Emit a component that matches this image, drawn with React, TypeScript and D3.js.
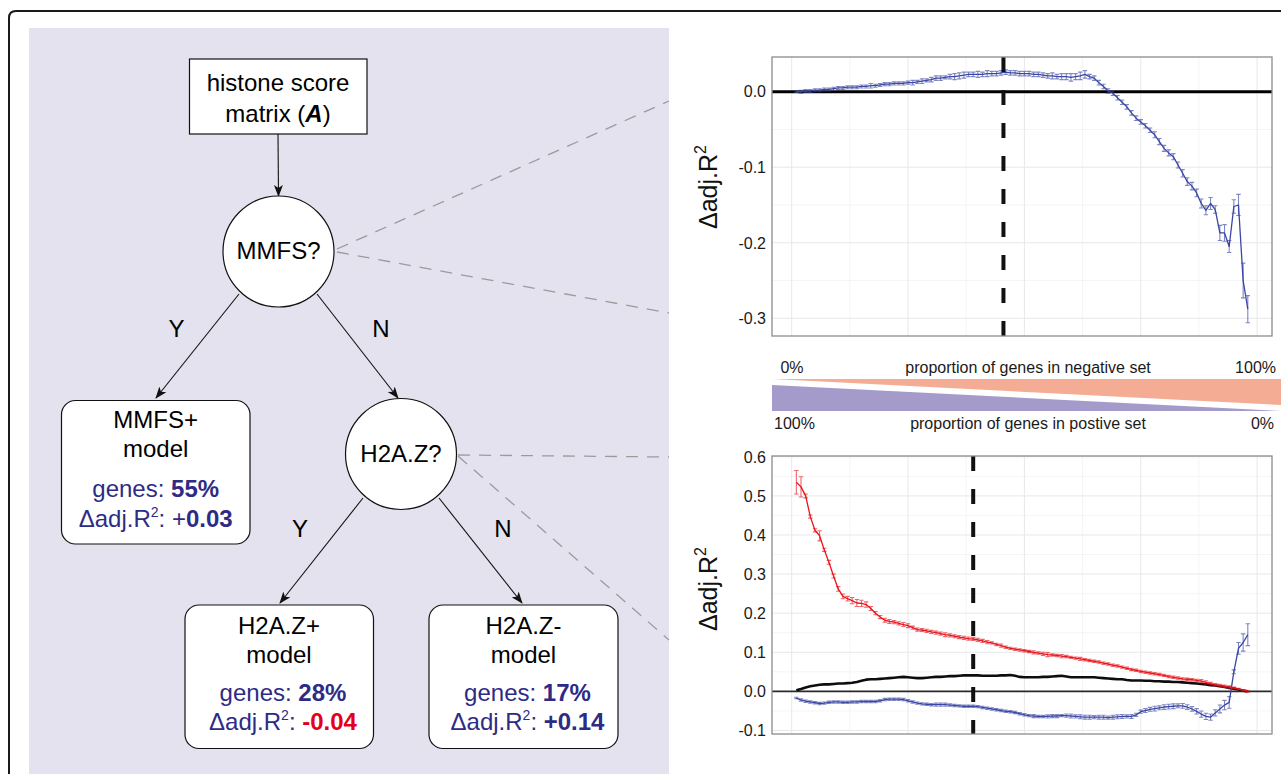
import React, { useEffect, useRef } from "react";
import * as d3 from "d3";

// percentage of genes moved into the negative set (x of every series)
const genePct = d3.range(1, 99);

// top panel: MMFS split, delta adj. R2 with standard error
const mmfsDelta = [
  0.000, 0.000, 0.001, 0.001, 0.002, 0.002, 0.003, 0.003, 0.004, 0.005,
  0.005, 0.006, 0.006, 0.006, 0.007, 0.007, 0.008, 0.008, 0.009, 0.010,
  0.010, 0.011, 0.011, 0.011, 0.012, 0.012, 0.013, 0.014, 0.015, 0.016,
  0.018, 0.018, 0.019, 0.020, 0.020, 0.021, 0.022, 0.023, 0.023, 0.023,
  0.023, 0.024, 0.024, 0.024, 0.025, 0.026, 0.025, 0.025, 0.024, 0.024,
  0.024, 0.023, 0.023, 0.022, 0.021, 0.021, 0.020, 0.020, 0.020, 0.019,
  0.020, 0.021, 0.023, 0.020, 0.018, 0.012, 0.007, 0.001, -0.002, -0.008,
  -0.014, -0.020, -0.028, -0.035, -0.040, -0.045, -0.051, -0.057, -0.066, -0.075,
  -0.081, -0.086, -0.097, -0.108, -0.119, -0.125, -0.134, -0.148, -0.157, -0.148,
  -0.156, -0.187, -0.187, -0.205, -0.152, -0.150, -0.250, -0.288,
];
const mmfsErr = [
  0.001, 0.002, 0.002, 0.002, 0.002, 0.002, 0.002, 0.002, 0.002, 0.002,
  0.002, 0.002, 0.002, 0.002, 0.002, 0.002, 0.003, 0.002, 0.002, 0.002,
  0.002, 0.002, 0.002, 0.002, 0.002, 0.003, 0.002, 0.003, 0.002, 0.003,
  0.003, 0.003, 0.002, 0.003, 0.004, 0.004, 0.004, 0.003, 0.003, 0.004,
  0.003, 0.004, 0.003, 0.003, 0.003, 0.003, 0.003, 0.003, 0.003, 0.003,
  0.003, 0.003, 0.003, 0.003, 0.003, 0.004, 0.003, 0.004, 0.004, 0.005,
  0.004, 0.005, 0.005, 0.003, 0.003, 0.003, 0.003, 0.003, 0.003, 0.003,
  0.003, 0.003, 0.003, 0.003, 0.003, 0.003, 0.003, 0.004, 0.004, 0.004,
  0.004, 0.004, 0.004, 0.005, 0.005, 0.005, 0.005, 0.006, 0.006, 0.008,
  0.005, 0.010, 0.011, 0.008, 0.009, 0.014, 0.023, 0.018,
];

// bottom panel: H2A.Z split
const h2azNegDelta = [
  0.535, 0.523, 0.500, 0.447, 0.412, 0.398, 0.362, 0.330, 0.295, 0.262,
  0.243, 0.237, 0.232, 0.226, 0.225, 0.222, 0.212, 0.200, 0.190, 0.182,
  0.179, 0.177, 0.174, 0.171, 0.168, 0.163, 0.158, 0.157, 0.155, 0.152,
  0.150, 0.148, 0.145, 0.143, 0.141, 0.139, 0.137, 0.135, 0.134, 0.132,
  0.129, 0.126, 0.124, 0.120, 0.117, 0.113, 0.110, 0.108, 0.106, 0.104,
  0.102, 0.100, 0.098, 0.096, 0.094, 0.093, 0.092, 0.090, 0.089, 0.087,
  0.085, 0.083, 0.081, 0.079, 0.077, 0.075, 0.072, 0.070, 0.067, 0.065,
  0.062, 0.059, 0.056, 0.054, 0.051, 0.049, 0.047, 0.045, 0.043, 0.041,
  0.038, 0.036, 0.034, 0.032, 0.031, 0.030, 0.028, 0.026, 0.023, 0.020,
  0.017, 0.015, 0.013, 0.011, 0.009, 0.006, 0.003, 0.000,
];
const h2azNegErr = [
  0.030, 0.026, 0.005, 0.004, 0.004, 0.013, 0.004, 0.005, 0.005, 0.006,
  0.006, 0.006, 0.008, 0.009, 0.008, 0.007, 0.005, 0.004, 0.004, 0.005,
  0.005, 0.004, 0.004, 0.005, 0.005, 0.004, 0.004, 0.004, 0.004, 0.004,
  0.004, 0.004, 0.005, 0.004, 0.004, 0.004, 0.004, 0.004, 0.004, 0.004,
  0.004, 0.004, 0.003, 0.003, 0.004, 0.003, 0.003, 0.003, 0.003, 0.003,
  0.003, 0.004, 0.003, 0.004, 0.005, 0.003, 0.003, 0.004, 0.003, 0.003,
  0.003, 0.004, 0.003, 0.003, 0.003, 0.003, 0.003, 0.003, 0.003, 0.003,
  0.003, 0.003, 0.003, 0.003, 0.003, 0.003, 0.003, 0.003, 0.003, 0.003,
  0.003, 0.003, 0.003, 0.003, 0.003, 0.003, 0.003, 0.004, 0.004, 0.003,
  0.003, 0.003, 0.003, 0.003, 0.002, 0.002, 0.002, 0.002,
];
const h2azPosDelta = [
  -0.017, -0.022, -0.025, -0.027, -0.029, -0.031, -0.030, -0.028, -0.027, -0.027,
  -0.028, -0.028, -0.027, -0.027, -0.026, -0.026, -0.026, -0.026, -0.024, -0.021,
  -0.020, -0.020, -0.020, -0.021, -0.024, -0.027, -0.030, -0.032, -0.033, -0.034,
  -0.034, -0.034, -0.034, -0.035, -0.036, -0.037, -0.038, -0.038, -0.038, -0.039,
  -0.041, -0.043, -0.045, -0.047, -0.049, -0.051, -0.052, -0.054, -0.057, -0.060,
  -0.062, -0.063, -0.064, -0.064, -0.064, -0.063, -0.063, -0.062, -0.062, -0.063,
  -0.064, -0.065, -0.066, -0.066, -0.066, -0.066, -0.066, -0.067, -0.066, -0.065,
  -0.064, -0.064, -0.064, -0.060, -0.052, -0.049, -0.046, -0.044, -0.042, -0.040,
  -0.039, -0.038, -0.037, -0.037, -0.040, -0.045, -0.051, -0.058, -0.064, -0.066,
  -0.055, -0.045, -0.035, -0.028, 0.050, 0.110, 0.125, 0.145,
];
const h2azPosErr = [
  0.002, 0.003, 0.003, 0.003, 0.003, 0.003, 0.003, 0.003, 0.003, 0.003,
  0.003, 0.003, 0.003, 0.003, 0.003, 0.003, 0.003, 0.003, 0.003, 0.003,
  0.003, 0.003, 0.003, 0.003, 0.003, 0.003, 0.003, 0.003, 0.003, 0.003,
  0.004, 0.004, 0.004, 0.003, 0.003, 0.003, 0.003, 0.003, 0.003, 0.003,
  0.003, 0.003, 0.003, 0.003, 0.003, 0.003, 0.003, 0.003, 0.003, 0.003,
  0.003, 0.004, 0.003, 0.003, 0.004, 0.004, 0.004, 0.003, 0.004, 0.005,
  0.004, 0.005, 0.005, 0.005, 0.004, 0.005, 0.005, 0.004, 0.005, 0.005,
  0.005, 0.004, 0.005, 0.004, 0.004, 0.005, 0.005, 0.006, 0.005, 0.006,
  0.006, 0.006, 0.005, 0.006, 0.006, 0.006, 0.007, 0.008, 0.008, 0.008,
  0.008, 0.010, 0.012, 0.015, 0.005, 0.015, 0.022, 0.028,
];
const h2azOverall = [
  0.003, 0.006, 0.010, 0.013, 0.015, 0.017, 0.018, 0.018, 0.019, 0.020,
  0.020, 0.021, 0.022, 0.024, 0.027, 0.030, 0.031, 0.031, 0.032, 0.033,
  0.034, 0.035, 0.036, 0.037, 0.036, 0.035, 0.034, 0.034, 0.035, 0.036,
  0.037, 0.037, 0.038, 0.039, 0.039, 0.040, 0.041, 0.041, 0.041, 0.041,
  0.040, 0.040, 0.040, 0.040, 0.041, 0.041, 0.042, 0.040, 0.037, 0.036,
  0.036, 0.036, 0.036, 0.037, 0.037, 0.038, 0.039, 0.040, 0.038, 0.036,
  0.036, 0.036, 0.036, 0.036, 0.036, 0.035, 0.034, 0.033, 0.032, 0.031,
  0.031, 0.029, 0.028, 0.028, 0.028, 0.027, 0.027, 0.026, 0.026, 0.025,
  0.025, 0.024, 0.024, 0.023, 0.022, 0.021, 0.020, 0.019, 0.018, 0.016,
  0.015, 0.013, 0.011, 0.009, 0.007, 0.005, 0.002, 0.000,
];

// chosen split (dashed line), % of genes
const mmfsSplit = 45.5;
const h2azSplit = 39;

const topTicks = [0.0, -0.1, -0.2, -0.3];
const topMinor = [-0.05, -0.15, -0.25];
const bottomTicks = [0.6, 0.5, 0.4, 0.3, 0.2, 0.1, 0.0, -0.1];
const bottomMinor = [0.55, 0.45, 0.35, 0.25, 0.15, 0.05, -0.05];
const xMajor = [0, 25, 50, 75, 100];
const xMinor = [12.5, 37.5, 62.5, 87.5];

const leaves = [
  { title: "MMFS+", genes: "55%", sign: "+", delta: "0.03", signBold: false, red: false },
  { title: "H2A.Z+", genes: "28%", sign: "", delta: "-0.04", signBold: true, red: true },
  { title: "H2A.Z-", genes: "17%", sign: "", delta: "+0.14", signBold: true, red: false },
];

const FONT = "'Liberation Sans', Arial, Helvetica, sans-serif";
const INK = "#2e2b86";
const RED = "#e3001b";
const BLUE = "#3a46a3";

const PLOT_L = 772;
const PLOT_R = 1272;

const App = () => {
  const ref = useRef<SVGSVGElement>(null);

  useEffect(() => {
    drawChart();
  }, []);

  const drawChart = () => {
    const svg = d3.select(ref.current);
    svg.selectAll("*").remove();

    const defs = svg.append("defs");
    defs
      .append("marker")
      .attr("id", "arrow")
      .attr("viewBox", "0 0 12 10")
      .attr("refX", 11)
      .attr("refY", 5)
      .attr("markerWidth", 12)
      .attr("markerHeight", 10)
      .attr("markerUnits", "userSpaceOnUse")
      .attr("orient", "auto")
      .append("path")
      .attr("d", "M0,0.5 L12,5 L0,9.5 L3,5 Z")
      .attr("fill", "#111");

    // outer frame
    svg
      .append("path")
      .attr("d", "M9,780 V18 Q9,11 16,11 H1290")
      .attr("fill", "none")
      .attr("stroke", "#1a1a1a")
      .attr("stroke-width", 2);

    // ---------- decision tree panel ----------
    const tree = svg.append("g").attr("font-family", FONT);
    tree
      .append("rect")
      .attr("x", 29)
      .attr("y", 28)
      .attr("width", 640)
      .attr("height", 760)
      .attr("fill", "#e4e2ef");

    const connectors = [
      [337, 249, 669, 101],
      [337, 252, 669, 313],
      [458, 455, 669, 457],
      [458, 456, 669, 640],
    ];
    tree
      .selectAll("line.conn")
      .data(connectors)
      .join("line")
      .attr("class", "conn")
      .attr("x1", (d) => d[0])
      .attr("y1", (d) => d[1])
      .attr("x2", (d) => d[2])
      .attr("y2", (d) => d[3])
      .attr("stroke", "#9b9b9b")
      .attr("stroke-width", 1.3)
      .attr("stroke-dasharray", "12,9");

    // root box
    tree
      .append("rect")
      .attr("x", 189.5)
      .attr("y", 59)
      .attr("width", 177.5)
      .attr("height", 75)
      .attr("fill", "#fff")
      .attr("stroke", "#111")
      .attr("stroke-width", 1.2);
    tree
      .append("text")
      .attr("x", 278)
      .attr("y", 90.5)
      .attr("text-anchor", "middle")
      .attr("font-size", 24)
      .text("histone score");
    const rootLine = tree
      .append("text")
      .attr("x", 278)
      .attr("y", 121.5)
      .attr("text-anchor", "middle")
      .attr("font-size", 24);
    rootLine.append("tspan").text("matrix (");
    rootLine.append("tspan").attr("font-weight", "bold").attr("font-style", "italic").text("A");
    rootLine.append("tspan").text(")");

    const edges = [
      [278, 134, 278.5, 196],
      [239, 294, 156, 398],
      [317, 294, 398, 398],
      [363, 498, 280, 603],
      [439, 498, 522, 603],
    ];
    tree
      .selectAll("line.edge")
      .data(edges)
      .join("line")
      .attr("class", "edge")
      .attr("x1", (d) => d[0])
      .attr("y1", (d) => d[1])
      .attr("x2", (d) => d[2])
      .attr("y2", (d) => d[3])
      .attr("stroke", "#111")
      .attr("stroke-width", 1.1)
      .attr("marker-end", "url(#arrow)");

    const decisions = [
      { label: "MMFS?", cx: 278.5, cy: 251.5 },
      { label: "H2A.Z?", cx: 401, cy: 454 },
    ];
    decisions.forEach((d) => {
      tree
        .append("circle")
        .attr("cx", d.cx)
        .attr("cy", d.cy)
        .attr("r", 55.5)
        .attr("fill", "#fff")
        .attr("stroke", "#111")
        .attr("stroke-width", 1.2);
      tree
        .append("text")
        .attr("x", d.cx)
        .attr("y", d.cy + 7.5)
        .attr("text-anchor", "middle")
        .attr("font-size", 24)
        .text(d.label);
    });

    const yn = [
      ["Y", 176.5, 337],
      ["N", 381, 337],
      ["Y", 300, 537],
      ["N", 503, 537],
    ];
    yn.forEach(([t, x, y]) => {
      tree
        .append("text")
        .attr("x", x)
        .attr("y", y)
        .attr("text-anchor", "middle")
        .attr("font-size", 24)
        .text(t as string);
    });

    const leafBoxes = [
      { x: 61.5, y: 400.5, w: 188.5, h: 143.5, cx: 155.7 },
      { x: 185, y: 605, w: 188.5, h: 143.5, cx: 279 },
      { x: 429, y: 605, w: 189, h: 143.5, cx: 523.5 },
    ];
    leaves.forEach((leaf, i) => {
      const b = leafBoxes[i];
      tree
        .append("rect")
        .attr("x", b.x)
        .attr("y", b.y)
        .attr("width", b.w)
        .attr("height", b.h)
        .attr("rx", 14)
        .attr("fill", "#fff")
        .attr("stroke", "#111")
        .attr("stroke-width", 1.2);
      const off = i === 0 ? [27.5, 56.5, 96.5, 126.5] : [29, 57.5, 95.5, 124.5];
      const ix = i === 0 ? b.cx : b.cx + 4;
      tree.append("text").attr("x", b.cx).attr("y", b.y + off[0]).attr("text-anchor", "middle").attr("font-size", 24).text(leaf.title);
      tree.append("text").attr("x", b.cx).attr("y", b.y + off[1]).attr("text-anchor", "middle").attr("font-size", 24).text("model");
      const g1 = tree
        .append("text")
        .attr("x", ix)
        .attr("y", b.y + off[2])
        .attr("text-anchor", "middle")
        .attr("font-size", 24)
        .attr("fill", INK);
      g1.append("tspan").text("genes: ");
      g1.append("tspan").attr("font-weight", "bold").text(leaf.genes);
      const g2 = tree
        .append("text")
        .attr("x", ix)
        .attr("y", b.y + off[3])
        .attr("text-anchor", "middle")
        .attr("font-size", 24)
        .attr("fill", INK);
      g2.append("tspan").text("Δadj.R");
      g2.append("tspan").attr("font-size", 14).attr("dy", -10).text("2");
      g2.append("tspan").attr("dy", 10).text(": ");
      if (leaf.sign) g2.append("tspan").text(leaf.sign);
      g2.append("tspan")
        .attr("font-weight", "bold")
        .attr("fill", leaf.red ? RED : INK)
        .text(leaf.delta);
    });

    // ---------- line panels ----------
    const x = d3.scaleLinear().domain([-4.23, 103.2]).range([PLOT_L, PLOT_R]);

    const drawPanel = (cfg: any) => {
      const { top, bottom, domain, ticks, minor, split, zeroWidth, zeroColor, series, titleY } = cfg;
      const y = d3.scaleLinear().domain(domain).range([bottom, top]);
      const g = svg.append("g").attr("font-family", FONT);

      g.append("rect")
        .attr("x", PLOT_L)
        .attr("y", top)
        .attr("width", PLOT_R - PLOT_L)
        .attr("height", bottom - top)
        .attr("fill", "#fff");

      g.selectAll("line.ymin")
        .data(minor)
        .join("line")
        .attr("x1", PLOT_L)
        .attr("x2", PLOT_R)
        .attr("y1", (d: number) => y(d))
        .attr("y2", (d: number) => y(d))
        .attr("stroke", "#f3f3f3")
        .attr("stroke-width", 0.8);
      g.selectAll("line.xmin")
        .data(xMinor)
        .join("line")
        .attr("y1", top)
        .attr("y2", bottom)
        .attr("x1", (d) => x(d))
        .attr("x2", (d) => x(d))
        .attr("stroke", "#f3f3f3")
        .attr("stroke-width", 0.8);
      g.selectAll("line.ymaj")
        .data(ticks)
        .join("line")
        .attr("x1", PLOT_L)
        .attr("x2", PLOT_R)
        .attr("y1", (d: number) => y(d))
        .attr("y2", (d: number) => y(d))
        .attr("stroke", "#e8e8e8")
        .attr("stroke-width", 1);
      g.selectAll("line.xmaj")
        .data(xMajor)
        .join("line")
        .attr("y1", top)
        .attr("y2", bottom)
        .attr("x1", (d) => x(d))
        .attr("x2", (d) => x(d))
        .attr("stroke", "#e8e8e8")
        .attr("stroke-width", 1);

      // zero reference
      g.append("line")
        .attr("x1", PLOT_L)
        .attr("x2", PLOT_R)
        .attr("y1", y(0))
        .attr("y2", y(0))
        .attr("stroke", zeroColor)
        .attr("stroke-width", zeroWidth);

      series.forEach((s: any) => {
        if (s.err) {
          const path = d3.path();
          s.values.forEach((v: number, i: number) => {
            const px = x(genePct[i]);
            const y0 = y(v - s.err[i]);
            const y1 = y(v + s.err[i]);
            path.moveTo(px, y0);
            path.lineTo(px, y1);
            path.moveTo(px - 2.2, y0);
            path.lineTo(px + 2.2, y0);
            path.moveTo(px - 2.2, y1);
            path.lineTo(px + 2.2, y1);
          });
          g.append("path")
            .attr("d", path.toString())
            .attr("fill", "none")
            .attr("stroke", s.color)
            .attr("stroke-opacity", 0.65)
            .attr("stroke-width", 1.1);
        }
        const line = d3
          .line<number>()
          .x((_, i) => x(genePct[i]))
          .y((d) => y(d));
        g.append("path")
          .datum(s.values)
          .attr("fill", "none")
          .attr("stroke", s.color)
          .attr("stroke-width", s.width)
          .attr("stroke-linejoin", "round")
          .attr("d", line);
      });

      // chosen split
      g.append("line")
        .attr("x1", x(split))
        .attr("x2", x(split))
        .attr("y1", top)
        .attr("y2", bottom)
        .attr("stroke", "#111")
        .attr("stroke-width", 4)
        .attr("stroke-dasharray", "15,18");

      g.append("rect")
        .attr("x", PLOT_L)
        .attr("y", top)
        .attr("width", PLOT_R - PLOT_L)
        .attr("height", bottom - top)
        .attr("fill", "none")
        .attr("stroke", "#8c8c8c")
        .attr("stroke-width", 1.3);

      g.selectAll("text.tick")
        .data(ticks)
        .join("text")
        .attr("x", PLOT_L - 6)
        .attr("y", (d: number) => y(d))
        .attr("dy", "0.36em")
        .attr("text-anchor", "end")
        .attr("font-size", 16)
        .attr("fill", "#1a1a1a")
        .text((d: number) => d.toFixed(1));

      const title = g
        .append("text")
        .attr("transform", `translate(717,${titleY}) rotate(-90)`)
        .attr("text-anchor", "middle")
        .attr("font-size", 25)
        .attr("fill", "#111");
      title.append("tspan").text("Δadj.R");
      title.append("tspan").attr("font-size", 16).attr("dy", -11).text("2");
    };

    drawPanel({
      top: 57,
      bottom: 336,
      domain: [-0.3235, 0.046],
      ticks: topTicks,
      minor: topMinor,
      split: mmfsSplit,
      zeroWidth: 3,
      zeroColor: "#000",
      titleY: 187,
      series: [{ values: mmfsDelta, err: mmfsErr, color: BLUE, width: 1.3 }],
    });

    drawPanel({
      top: 456,
      bottom: 734,
      domain: [-0.109, 0.602],
      ticks: bottomTicks,
      minor: bottomMinor,
      split: h2azSplit,
      zeroWidth: 1.6,
      zeroColor: "#2a2a2a",
      titleY: 589,
      series: [
        { values: h2azOverall, err: null, color: "#0d0d0d", width: 2.6 },
        { values: h2azPosDelta, err: h2azPosErr, color: BLUE, width: 1.3 },
        { values: h2azNegDelta, err: h2azNegErr, color: "#e8131b", width: 1.3 },
      ],
    });

    // proportion band between the two panels
    const band = svg.append("g").attr("font-family", FONT).attr("font-size", 16).attr("fill", "#1a1a1a");
    band.append("polygon").attr("points", "772,379 1281,379 1281,405").attr("fill", "#f4ad94");
    band.append("polygon").attr("points", "772,385 772,411 1281,411").attr("fill", "#a49bcb");
    band.append("text").attr("x", 792).attr("y", 373).attr("text-anchor", "middle").text("0%");
    band.append("text").attr("x", 1028).attr("y", 373).attr("text-anchor", "middle").text("proportion of genes in negative set");
    band.append("text").attr("x", 1276).attr("y", 373).attr("text-anchor", "end").text("100%");
    band.append("text").attr("x", 774).attr("y", 429).attr("text-anchor", "start").text("100%");
    band.append("text").attr("x", 1028).attr("y", 429).attr("text-anchor", "middle").text("proportion of genes in postive set");
    band.append("text").attr("x", 1274).attr("y", 429).attr("text-anchor", "end").text("0%");
  };

  return (
    <div>
      <svg
        ref={ref}
        width={1281}
        height={774}
        style={{ position: "absolute", left: 0, top: 0, display: "block" }}
      ></svg>
    </div>
  );
};

export default App;
